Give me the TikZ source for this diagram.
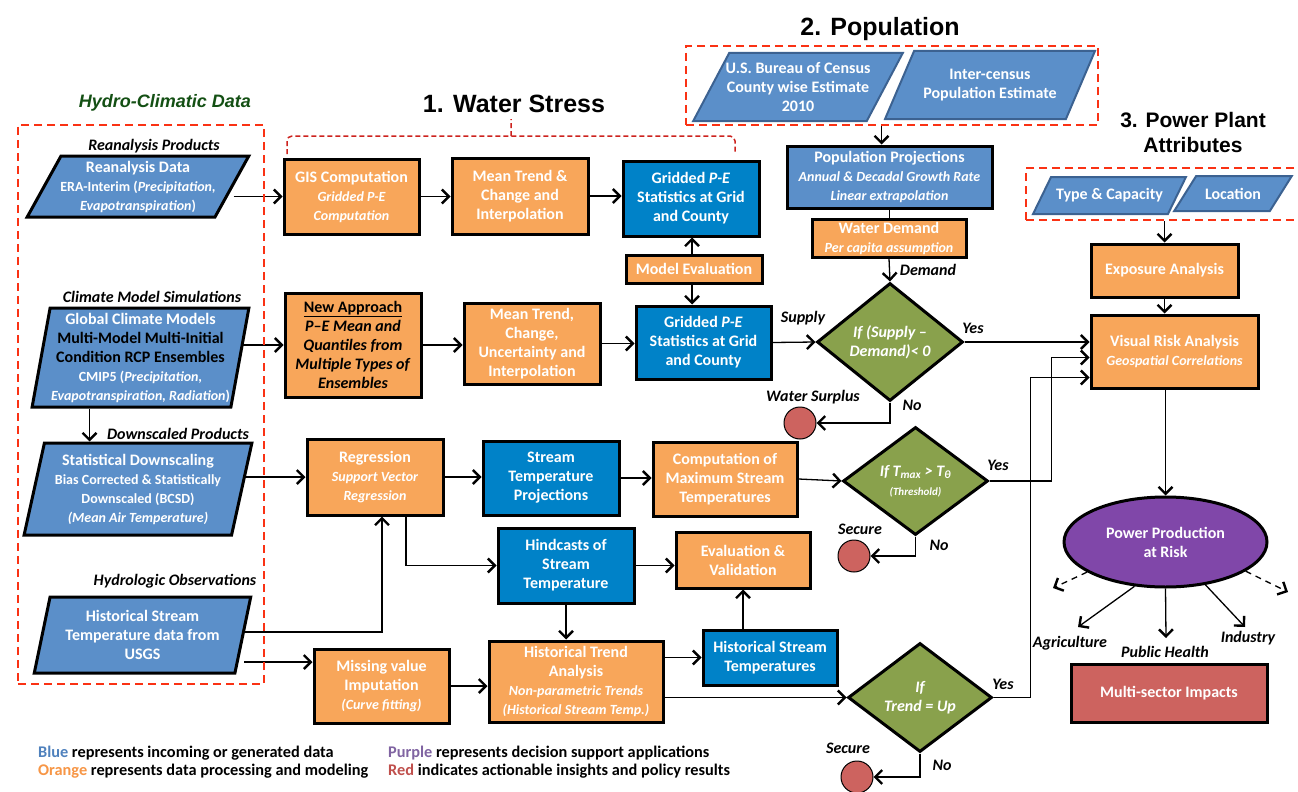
\documentclass[tikz,border=0pt]{standalone}
\usepackage{fontspec}
\setmainfont{Carlito}
\newfontfamily\titlefont{Liberation Sans}
\usetikzlibrary{shapes.geometric,arrows.meta,backgrounds}

\definecolor{procorange}{RGB}{248,166,90}
\definecolor{datablue}{RGB}{0,130,200}
\definecolor{inblue}{RGB}{91,143,201}
\definecolor{inedge}{RGB}{60,98,145}
\definecolor{decgreen}{RGB}{137,161,76}
\definecolor{outred}{RGB}{205,99,95}
\definecolor{riskpurple}{RGB}{128,71,169}
\definecolor{grpred}{RGB}{250,50,20}
\definecolor{bracered}{RGB}{205,35,30}
\definecolor{hydrogreen}{RGB}{20,80,20}
\definecolor{legblue}{RGB}{79,129,189}
\definecolor{legorange}{RGB}{247,150,70}
\definecolor{legpurple}{RGB}{128,100,162}
\definecolor{legred}{RGB}{192,80,77}

\newcommand{\mainfs}{\fontsize{16}{19}\selectfont}
\newcommand{\subfs}{\fontsize{14}{17}\selectfont}
\newcommand{\lblfs}{\fontsize{16}{19}\selectfont}
\newcommand{\legfs}{\fontsize{16.3}{19}\selectfont}

\tikzset{
  sz/.style 2 args={minimum width=#1pt, minimum height=#2pt},
  box/.style={draw, line width=3pt, align=center, text=white, inner sep=1pt, font=\bfseries\mainfs},
  procbox/.style={box, fill=procorange},
  databox/.style={box, fill=datablue},
  inpara/.style 2 args={box, fill=inblue, trapezium, trapezium stretches=true,
    trapezium left angle=#1, trapezium right angle=#2, inner xsep=-6pt},
  popin/.style 2 args={inpara={#1}{#2}, draw=inedge, line width=2pt, inner xsep=-12pt},
  decision/.style={box, diamond, fill=decgreen, font=\bfseries\itshape\mainfs, inner sep=0pt},
  endpt/.style={circle, draw, line width=1pt, fill=outred, minimum size=32pt, inner sep=0pt},
  lbl/.style={font=\bfseries\itshape\lblfs, inner sep=1pt},
  grouptitle/.style={font=\titlefont\bfseries\fontsize{25}{28}\selectfont},
  groupbox/.style={draw=grpred, line width=2.5pt, dash pattern=on 8pt off 5pt, inner sep=0pt},
  arr/.style={line width=1.3pt, -{Straight Barb[length=7pt,width=14pt,line width=2.4pt]}},
  darr/.style={arr, dash pattern=on 6pt off 5pt},
}

\begin{document}
\begin{tikzpicture}[x=1pt, y=-1pt]
\useasboundingbox (0,0) rectangle (1298,792);
\begin{scope}[on background layer]
  \fill[white] (0,0) rectangle (1298,792);
\end{scope}

% titles and groups
\node[font=\titlefont\bfseries\itshape\fontsize{18}{21}\selectfont, text=hydrogreen] (hydrotitle) at (165,103) {Hydro-Climatic Data};
\node[grouptitle] (wstitle) at (514,104) {1. Water Stress};
\node[grouptitle] (poptitle) at (880,29) {2. Population};
\node[align=center, font=\titlefont\bfseries\fontsize{21}{25}\selectfont] (pptitle) at (1193,132) {3. Power Plant\\Attributes};

\node[groupbox, sz={246}{559}] (hydrogroup) at (141,404.5) {};
\node[groupbox, sz={412}{79}] (popgroup) at (892,85.5) {};
\node[groupbox, sz={290}{52}] (plantgroup) at (1171,194) {};
\draw[bracered, line width=1.5pt, dash pattern=on 5pt off 3pt, rounded corners=5pt]
  (287,154) -- (287,136) -- (735,136) -- (735,154) (511,136) -- (511,119);

% hydro-climatic inputs
\node[lbl] (reanlbl) at (154,146) {Reanalysis Products};
\node[inpara={59.5}{120.5}, sz={222}{61}] (rean) at (138,186.5)
  {Reanalysis Data\\{\subfs ERA-Interim (\textit{Precipitation,}}\\{\subfs\textit{Evapotranspiration})}};
\node[lbl] (gcmlbl) at (152,297) {Climate Model Simulations};
\node[inpara={79.7}{100.3}, sz={217}{99}] (gcm) at (140.5,357.5)
  {Global Climate Models\\\textcolor{black}{Multi-Model Multi-Initial}\\\textcolor{black}{Condition RCP Ensembles}\\{\subfs CMIP5 (\textit{Precipitation,}}\\{\subfs\textit{Evapotranspiration, Radiation})}};
\node[lbl] (bcsdlbl) at (178,434) {Downscaled Products};
\node[inpara={77}{103}, sz={228}{92}] (bcsd) at (138,489)
  {Statistical Downscaling\\{\subfs Bias Corrected \& Statistically}\\{\subfs Downscaled (BCSD)}\\{\subfs\itshape (Mean Air Temperature)}};
\node[lbl] (usgslbl) at (175,581) {Hydrologic Observations};
\node[inpara={76.7}{103.3}, sz={217}{76}] (usgs) at (142.5,635)
  {Historical Stream\\Temperature data from\\USGS};

% water stress
\node[procbox, sz={135}{75}] (gis) at (351.5,196.5) {GIS Computation\\{\subfs\itshape Gridded P-E}\\{\subfs\itshape Computation}};
\node[procbox, sz={136}{76}] (mtrend) at (520,196) {Mean Trend \&\\Change and\\Interpolation};
\node[databox, sz={136}{75}] (gridA) at (691,198.5) {Gridded \textit{P-E}\\Statistics at Grid\\and County};
\node[procbox, sz={136}{28}] (modeval) at (694,269) {Model Evaluation};
\node[procbox, sz={136}{104}, text=black] (newapp) at (353,345)
  {\underline{New Approach}\\\textit{P--E Mean and}\\\textit{Quantiles from}\\\textit{Multiple Types of}\\\textit{Ensembles}};
\node[procbox, sz={136}{81}] (mtrendB) at (532,343.5) {Mean Trend,\\Change,\\Uncertainty and\\Interpolation};
\node[databox, sz={135}{73}] (gridB) at (703.5,342.5) {Gridded \textit{P-E}\\Statistics at Grid\\and County};

% population
\node[popin={58.3}{121.7}, sz={210}{68}] (census) at (798,87) {U.S. Bureau of Census\\County wise Estimate\\2010};
\node[popin={58.3}{121.7}, sz={210}{68}] (intercensus) at (990,85) {Inter-census\\Population Estimate};
\node[box, fill=inblue, sz={205}{62}] (popproj) at (889.5,177)
  {Population Projections\\{\subfs\itshape Annual \& Decadal Growth Rate}\\{\subfs\itshape Linear extrapolation}};
\node[procbox, sz={154}{38}] (wdemand) at (889,238) {Water Demand\\{\subfs\itshape Per capita assumption}};
\node[decision, sz={146}{118}] (dwater) at (890,342) {If (Supply --\\Demand)< 0};
\node[endpt] (surplus) at (800,423) {};

% stream temperature
\node[procbox, sz={136}{76}] (regr) at (375,477) {Regression\\{\subfs\itshape Support Vector}\\{\subfs\itshape Regression}};
\node[databox, sz={136}{74}] (stproj) at (551,478) {Stream\\Temperature\\Projections};
\node[procbox, sz={144}{74}] (maxtemp) at (725,479) {Computation of\\Maximum Stream\\Temperatures};
\node[decision, sz={145}{108}] (dtemp) at (915.5,481)
  {If T\textsubscript{max} > T\textsubscript{θ}\\{\fontsize{11}{13}\selectfont (Threshold)}};
\node[endpt] (secureA) at (854,556) {};
\node[databox, sz={136}{75}] (hind) at (566,565.5) {Hindcasts of\\Stream\\Temperature};
\node[procbox, sz={134}{56}] (evalval) at (743,560) {Evaluation \&\\Validation};
\node[procbox, sz={135}{74}] (missing) at (381.5,686) {Missing value\\Imputation\\{\subfs\itshape (Curve fitting)}};
\node[procbox, sz={174}{81}] (htrend) at (576,681.5)
  {Historical Trend\\Analysis\\{\subfs\itshape Non-parametric Trends}\\{\subfs\itshape (Historical Stream Temp.)}};
\node[databox, sz={134}{55}] (histtemp) at (770,657.5) {Historical Stream\\Temperatures};
\node[decision, sz={144}{109}] (dtrend) at (920,697.5) {If\\Trend = Up};
\node[endpt] (secureB) at (857,777) {};

% power plant
\node[popin={51}{129}, sz={153}{37}] (typecap) at (1109.5,195.5) {Type \& Capacity};
\node[popin={54.5}{125.5}, sz={118}{35}] (location) at (1233,193.5) {Location};
\node[procbox, sz={147}{53}] (exposure) at (1164.5,270.5) {Exposure Analysis};
\node[procbox, sz={167}{73}] (visrisk) at (1174.5,351.5) {Visual Risk Analysis\\{\subfs\itshape Geospatial Correlations}};
\node[box, ellipse, fill=riskpurple, sz={203}{90}] (powerrisk) at (1165.5,542) {Power Production\\at Risk};
\node[box, fill=outred, sz={196}{58}] (impacts) at (1169,693) {Multi-sector Impacts};
\coordinate (agri) at (1078,627);
\coordinate (health) at (1166,638);
\coordinate (indus) at (1245,627);
\coordinate (leftout) at (1053,588);
\coordinate (rightout) at (1288,592);

% labels
\node[lbl] at (928,270) {Demand};
\node[lbl] at (803,318) {Supply};
\node[lbl] at (973,328) {Yes};
\node[lbl] at (912,405) {No};
\node[lbl] at (813,397) {Water Surplus};
\node[lbl] at (998,465) {Yes};
\node[lbl] at (939,545) {No};
\node[lbl] at (860,529) {Secure};
\node[lbl] at (1003,684) {Yes};
\node[lbl] at (942,765) {No};
\node[lbl] at (848,748) {Secure};
\node[lbl] at (1070,643) {Agriculture};
\node[lbl] at (1165,652) {Public Health};
\node[lbl] at (1248,638) {Industry};

% legend
\node[anchor=west, font=\bfseries\legfs, inner sep=0pt] (legA) at (38,753) {\textcolor{legblue}{Blue} represents incoming or generated data};
\node[anchor=west, font=\bfseries\legfs, inner sep=0pt] (legB) at (38,771) {\textcolor{legorange}{Orange} represents data processing and modeling};
\node[anchor=west, font=\bfseries\legfs, inner sep=0pt] (legC) at (388,753) {\textcolor{legpurple}{Purple} represents decision support applications};
\node[anchor=west, font=\bfseries\legfs, inner sep=0pt] (legD) at (388,771) {\textcolor{legred}{Red} indicates actionable insights and policy results};

% connectors
\begin{scope}[on background layer]
  \draw[arr] (rean.east |- gis.west) -- (gis.west);
  \draw[arr] (gis.east) -- (gis.east -| mtrend.west);
  \draw[arr] (mtrend.east) -- (mtrend.east -| gridA.west);
  \draw[arr] ([xshift=-2pt]modeval.north) -- ([xshift=-2pt]modeval.north |- gridA.south);
  \draw[arr] ([xshift=-2pt]modeval.south) -- ([xshift=-2pt]modeval.south |- gridB.north);
  \draw[arr] (gcm.east |- newapp.west) -- (newapp.west);
  \draw[arr] (newapp.east) -- (newapp.east -| mtrendB.west);
  \draw[arr] (mtrendB.east) -- (mtrendB.east -| gridB.west);
  \draw[arr] (gridB.east) -- (dwater.west);
  \draw[arr] ([xshift=-51pt]gcm.south) -- ([xshift=-51pt]gcm.south |- bcsd.north);
  \draw[arr] (bcsd.east |- regr.west) -- (regr.west);
  \draw[arr] (regr.east) -- (regr.east -| stproj.west);
  \draw[arr] (stproj.east) -- (stproj.east -| maxtemp.west);
  \draw[arr] (maxtemp.east) -- (dtemp.west);
  \draw[arr] ([yshift=3pt]usgs.east) -| ([xshift=7pt]regr.south);
  \draw[arr] ([xshift=31pt]regr.south) |- (hind.west);
  \draw[arr] (hind.east) -- (hind.east -| evalval.west);
  \draw[arr] (hind.south) -- (hind.south |- htrend.north);
  \draw[arr] ([yshift=-27pt]usgs.east) -- ([yshift=-27pt]usgs.east -| missing.west);
  \draw[arr] (missing.east) -- (missing.east -| htrend.west);
  \draw[arr] (htrend.east |- histtemp.west) -- (histtemp.west);
  \draw[arr] (histtemp.north -| evalval.south) -- (evalval.south);
  \draw[arr] (htrend.east |- dtrend.west) -- (dtrend.west);
  \draw[arr] ([xshift=-8pt]popgroup.south -| popproj.north) -- ([xshift=-8pt]popproj.north);
  \draw[line width=1.3pt] (popproj.south) -- (popproj.south |- wdemand.north);
  \draw[arr] (wdemand.south) -- (dwater.north);
  \draw[arr] (dwater.east) -- (dwater.east -| visrisk.west);
  \draw[arr] (dwater.south) |- (surplus.east);
  \draw[arr] (dtemp.east) -- ++(62,0) |- ([yshift=-6pt]visrisk.west);
  \draw[arr] (dtemp.south) |- (secureA.east);
  \draw[arr] (dtrend.east) -- ++(37,0) |- ([yshift=-26pt]visrisk.west);
  \draw[arr] (dtrend.south) |- (secureB.east);
  \draw[arr] (plantgroup.south -| exposure.north) -- (exposure.north);
  \draw[arr] (exposure.south) -- (exposure.south |- visrisk.north);
  \draw[arr] (visrisk.south -| powerrisk.north) -- (powerrisk.north);
  \draw[arr] (powerrisk.-125) -- (agri);
  \draw[arr] (powerrisk.south) -- (health);
  \draw[arr] (powerrisk.-47) -- (indus);
  \draw[darr] (powerrisk.-159) -- (leftout);
  \draw[darr] (powerrisk.-20) -- (rightout);
\end{scope}
\end{tikzpicture}
\end{document}
